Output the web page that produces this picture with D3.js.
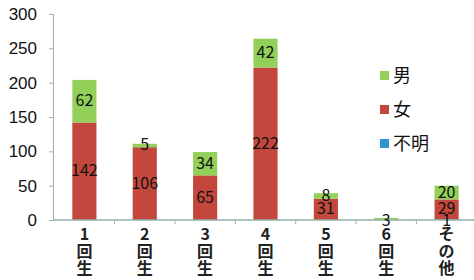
<!DOCTYPE html>
<html lang="ja">
<head>
<meta charset="UTF-8">
<title>回生別 男女</title>
<script src="https://cdnjs.cloudflare.com/ajax/libs/d3/7.8.5/d3.min.js"></script>
<style>
  html, body { margin: 0; padding: 0; background: #fff; }
  svg { display: block; font-family: "Noto Sans CJK JP", "Noto Sans", sans-serif; }
  .lbl { font-size: 16px; fill: #111; }
</style>
</head>
<body>
<svg width="474" height="280"></svg>
<script>
// data
const categories = ["1回生", "2回生", "3回生", "4回生", "5回生", "6回生", "その他"];
const tickLabels = [["1", "回", "生"], ["2", "回", "生"], ["3", "回", "生"], ["4", "回", "生"],
                    ["5", "回", "生"], ["6", "回", "生"], ["そ", "の", "他"]];
const unknown = [0, 0, 0, 0, 0, 0, 1];   // 不明
const female  = [142, 106, 65, 222, 31, 0, 29]; // 女
const male    = [62, 5, 34, 42, 8, 3, 20];  // 男
const yTicks  = [0, 50, 100, 150, 200, 250, 300];

const seriesNames = ["不明", "女", "男"];
const colors = { "不明": "#2e95cf", "女": "#c4473d", "男": "#92d05a" };

const rows = categories.map((c, i) => ({ cat: c, "不明": unknown[i], "女": female[i], "男": male[i] }));

const svg = d3.select("svg");
const x = d3.scaleBand().domain(categories).range([53, 478]).paddingInner(0.6).paddingOuter(0.32);
const y = d3.scaleLinear().domain([0, 300]).range([220, 14]);

const stack = d3.stack().keys(seriesNames)(rows);

// bars
stack.forEach(layer => {
  svg.append("g").selectAll("rect")
    .data(layer)
    .enter().append("rect")
    .attr("x", d => x(d.data.cat))
    .attr("width", x.bandwidth())
    .attr("y", d => y(d[1]))
    .attr("height", d => y(d[0]) - y(d[1]))
    .attr("fill", colors[layer.key]);
});

// y axis
const yAxis = svg.append("g").attr("transform", "translate(53,0)")
  .call(d3.axisLeft(y).tickValues(yTicks).tickSize(4).tickPadding(12));
yAxis.select(".domain").attr("stroke", "#9bb0b8");
yAxis.selectAll(".tick line").attr("stroke", "#9bb0b8");
yAxis.selectAll(".tick text").attr("font-size", 17).attr("fill", "#111");

// x axis
const xAxis = svg.append("g").attr("transform", "translate(0,220)");
xAxis.append("line").attr("x1", 53).attr("x2", 474).attr("y1", 0).attr("y2", 0)
  .attr("stroke", "#8fb0a8").attr("stroke-width", 1.5);
xAxis.selectAll("line.t")
  .data(categories.slice(1))
  .enter().append("line").attr("class", "t")
  .attr("x1", d => x(d) - x.step() * x.paddingInner() / 2)
  .attr("x2", d => x(d) - x.step() * x.paddingInner() / 2)
  .attr("y1", 0).attr("y2", 4).attr("stroke", "#9bb0b8");

categories.forEach((c, i) => {
  const t = svg.append("text")
    .attr("x", x(c) + x.bandwidth() / 2)
    .attr("text-anchor", "middle")
    .attr("font-size", 16)
    .attr("font-weight", "bold")
    .attr("fill", "#222");
  tickLabels[i].forEach((ch, j) => {
    t.append("tspan").attr("x", x(c) + x.bandwidth() / 2).attr("y", 240 + j * 17).text(ch);
  });
});

// data labels
stack.forEach(layer => {
  svg.append("g").selectAll("text")
    .data(layer.filter(d => d[1] - d[0] > 0))
    .enter().append("text")
    .attr("class", "lbl")
    .attr("text-anchor", "middle")
    .attr("x", d => x(d.data.cat) + x.bandwidth() / 2)
    .attr("y", d => {
      let cy = (y(d[0]) + y(d[1])) / 2 + 5;
      if (d.data.cat === "6回生" || layer.key === "不明") cy = 226;
      return cy;
    })
    .text(d => d[1] - d[0]);
});

// legend
const legend = svg.append("g");
["男", "女", "不明"].forEach((k, i) => {
  const gy = 75 + i * 34;
  legend.append("rect").attr("x", 380).attr("y", gy - 4).attr("width", 9).attr("height", 9).attr("fill", colors[k]);
  legend.append("text").attr("x", 393).attr("y", gy + 7).attr("font-size", 18).attr("fill", "#111").text(k);
});
</script>
</body>
</html>
